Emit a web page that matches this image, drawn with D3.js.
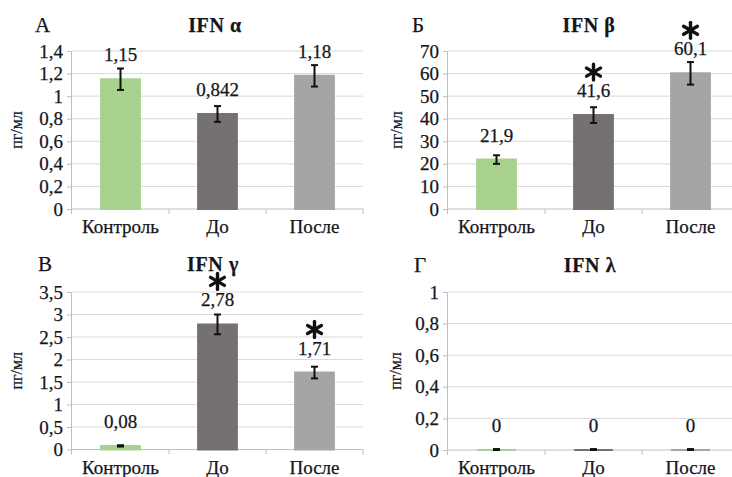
<!DOCTYPE html>
<html>
<head>
<meta charset="utf-8">
<script src="https://cdn.jsdelivr.net/npm/d3@7/dist/d3.min.js"></script>
<style>
  html, body { margin: 0; padding: 0; background: #fff; }
  svg { display: block; }
</style>
</head>
<body>
<svg id="chart" width="732" height="477"></svg>
<script>
// Groups compared in every panel
const categories = ["Контроль", "До", "После"];
const barColors = ["#a9d18e", "#767171", "#a5a5a5"];

// IFN α
const alphaValues = [1.15, 0.842, 1.18];
const alphaErrors = [0.095, 0.07, 0.095];
const alphaStars = [false, false, false];
const alphaTicks = [0, 0.2, 0.4, 0.6, 0.8, 1, 1.2, 1.4];

// IFN β
const betaValues = [21.9, 41.6, 60.1];
const betaErrors = [1.9, 3.5, 5.0];
const betaStars = [false, true, true];
const betaTicks = [0, 10, 20, 30, 40, 50, 60, 70];

// IFN γ
const gammaValues = [0.08, 2.78, 1.71];
const gammaErrors = [0.015, 0.22, 0.13];
const gammaStars = [false, true, true];
const gammaTicks = [0, 0.5, 1, 1.5, 2, 2.5, 3, 3.5];

// IFN λ
const lambdaValues = [0, 0, 0];
const lambdaErrors = [0.006, 0.006, 0.006];
const lambdaStars = [false, false, false];
const lambdaTicks = [0, 0.2, 0.4, 0.6, 0.8, 1];

const FONT = "'Liberation Serif', 'Times New Roman', Tinos, 'DejaVu Serif', serif";
const INK = "#15151c";
const comma = v => String(v).replace(".", ",");

const svg = d3.select("#chart");

const panels = [
  { letter: "А", title: "IFN α", values: alphaValues, errors: alphaErrors, stars: alphaStars, ticks: alphaTicks,
    x0: 72, top: 51, zero: 209, letterX: 35, titleX: 215, headY: 32, unitX: 17 },
  { letter: "Б", title: "IFN β", values: betaValues, errors: betaErrors, stars: betaStars, ticks: betaTicks,
    x0: 448, top: 51, zero: 209, letterX: 412, titleX: 589, headY: 32, unitX: 397 },
  { letter: "В", title: "IFN γ", values: gammaValues, errors: gammaErrors, stars: gammaStars, ticks: gammaTicks,
    x0: 72, top: 292, zero: 449.5, letterX: 38, titleX: 213, headY: 271, unitX: 17 },
  { letter: "Г", title: "IFN λ", values: lambdaValues, errors: lambdaErrors, stars: lambdaStars, ticks: lambdaTicks,
    x0: 448, top: 292, zero: 450, letterX: 414, titleX: 590, headY: 272, unitX: 396 }
];

const step = 97;

function label(sel) {
  return sel.style("font-family", FONT).attr("fill", INK)
    .attr("stroke", INK).attr("stroke-width", 0.25);
}

panels.forEach(p => {
  const g = svg.append("g");
  const x = d3.scaleBand()
    .domain(categories)
    .range([p.x0, p.x0 + step * categories.length])
    .paddingInner(0.6)
    .paddingOuter(0.3);
  const y = d3.scaleLinear()
    .domain([0, p.ticks[p.ticks.length - 1]])
    .range([p.zero, p.top]);
  const xEnd = p.x0 + step * categories.length;

  // gridlines
  g.selectAll(".grid").data(p.ticks.filter(t => t > 0)).enter()
    .append("line")
    .attr("x1", p.x0).attr("x2", xEnd)
    .attr("y1", d => y(d)).attr("y2", d => y(d))
    .attr("stroke", "#d9d9d9").attr("stroke-width", 1);

  // y axis
  const yAxis = d3.axisLeft(y).tickValues(p.ticks).tickFormat(comma).tickSize(5).tickPadding(4);
  const ya = g.append("g").attr("transform", `translate(${p.x0},0)`).call(yAxis);
  ya.attr("font-family", null);
  ya.select(".domain").attr("stroke", "#bfbfbf").attr("d", `M-0.5,${p.top}V${p.zero + 5}`);
  ya.selectAll(".tick line").attr("stroke", "#bfbfbf");
  label(ya.selectAll(".tick text")).attr("font-size", 19);

  // x axis line and boundary ticks
  g.append("line").attr("x1", p.x0).attr("x2", xEnd)
    .attr("y1", p.zero).attr("y2", p.zero).attr("stroke", "#bfbfbf");
  g.selectAll(".xtick").data(d3.range(1, categories.length + 1)).enter()
    .append("line")
    .attr("x1", i => p.x0 + i * step).attr("x2", i => p.x0 + i * step)
    .attr("y1", p.zero).attr("y2", p.zero + 5).attr("stroke", "#bfbfbf");
  label(g.selectAll(".xlab").data(categories).enter()
    .append("text")
    .attr("x", d => x(d) + x.bandwidth() / 2)
    .attr("y", p.zero + 24)
    .attr("text-anchor", "middle").attr("font-size", 19)
    .text(d => d));

  // bars (outlined paths so a zero value still shows as a thin edge)
  g.selectAll(".bar").data(p.values).enter()
    .append("path")
    .attr("d", (d, i) => {
      const bx = x(categories[i]), bw = x.bandwidth();
      return `M${bx},${y(0)}V${y(d)}H${bx + bw}V${y(0)}Z`;
    })
    .attr("fill", (d, i) => barColors[i])
    .attr("stroke", (d, i) => barColors[i]).attr("stroke-width", 2);

  // error bars
  p.values.forEach((v, i) => {
    const cx = x(categories[i]) + x.bandwidth() / 2;
    const hi = y(v + p.errors[i]), lo = y(Math.max(0, v - p.errors[i]));
    const eg = g.append("g").attr("stroke", "#111").attr("stroke-width", 2);
    eg.append("line").attr("x1", cx).attr("x2", cx).attr("y1", hi).attr("y2", lo);
    eg.append("line").attr("x1", cx - 3.5).attr("x2", cx + 3.5).attr("y1", hi).attr("y2", hi);
    eg.append("line").attr("x1", cx - 3.5).attr("x2", cx + 3.5).attr("y1", lo).attr("y2", lo);
  });

  // value labels
  label(g.selectAll(".val").data(p.values).enter()
    .append("text")
    .attr("x", (d, i) => x(categories[i]) + x.bandwidth() / 2)
    .attr("y", d => y(d) - 18)
    .attr("text-anchor", "middle").attr("font-size", 19)
    .text(d => comma(d)));

  // significance asterisks (six spokes)
  p.values.forEach((v, i) => {
    if (!p.stars[i]) return;
    const cx = x(categories[i]) + x.bandwidth() / 2;
    const cy = y(v) - 18 - 25;
    const sg = g.append("g").attr("transform", `translate(${cx},${cy})`);
    [90, 30, 150].forEach(a => {
      const r = 8, rad = a * Math.PI / 180;
      sg.append("line")
        .attr("x1", -r * Math.cos(rad)).attr("y1", -r * Math.sin(rad))
        .attr("x2", r * Math.cos(rad)).attr("y2", r * Math.sin(rad))
        .attr("stroke", "#111").attr("stroke-width", 3.4).attr("stroke-linecap", "round");
    });
  });

  // headings
  label(g.append("text").attr("x", p.letterX).attr("y", p.headY)
    .attr("font-size", 21).text(p.letter));
  label(g.append("text").attr("x", p.titleX).attr("y", p.headY)
    .attr("text-anchor", "middle").attr("font-size", 20).attr("font-weight", "bold")
    .attr("letter-spacing", 0.6)
    .text(p.title));

  // unit label
  label(g.append("text")
    .attr("transform", `translate(${p.unitX + 5},${(p.top + p.zero) / 2}) rotate(-90)`)
    .attr("text-anchor", "middle").attr("font-size", 16)
    .text("пг/мл"));
});
</script>
</body>
</html>
